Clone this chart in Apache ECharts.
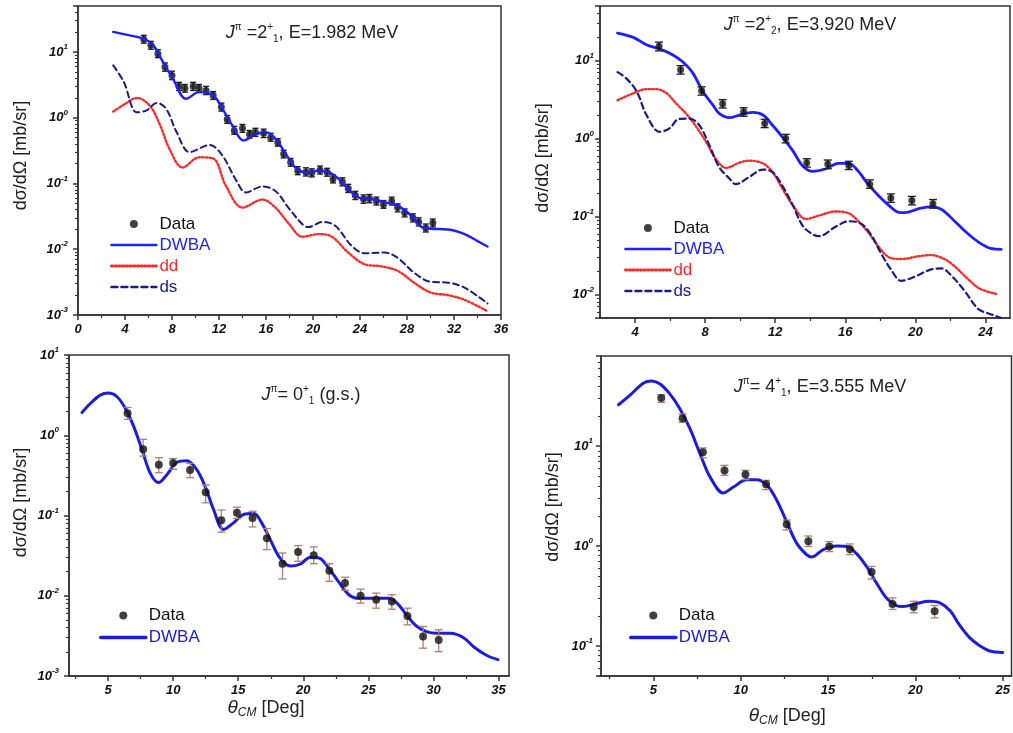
<!DOCTYPE html>
<html><head><meta charset="utf-8">
<script src="https://cdn.jsdelivr.net/npm/echarts@6/dist/echarts.min.js"></script>
<style>html,body{margin:0;padding:0;background:#fff}#c{width:1013px;height:733px}</style>
</head><body><div id="c"></div>
<script>
// ---------------- Panel 1: J=2+_1, E=1.982 MeV ----------------
const p1DwbaX = [3,4.3,5.55,6.4,7.24,8.08,9.2,10.3,11.5,12.3,13.15,14.1,15.1,16,16.8,17.7,18.5,19.4,20.5,21.3,22.2,23,23.9,25,26.1,27.2,28.4,29.2,30,31.5,32.9,34,34.85];
const p1DwbaY = [20.2,18,16,12.7,7,3.9,1.94,2.45,2.2,1.36,0.76,0.45,0.56,0.6,0.48,0.28,0.175,0.147,0.156,0.15,0.117,0.082,0.061,0.058,0.052,0.046,0.032,0.022,0.0205,0.020,0.017,0.0133,0.011];
const p1DdX = [3,4,5,6.1,7,7.8,8.9,10.3,11.5,12.6,14,15.7,16.8,17.9,19.1,20.5,21.6,23,24.4,25.8,27.2,28.6,30,31.5,32.9,34.85];
const p1DdY = [1.24,1.62,2.0,1.53,0.76,0.33,0.175,0.25,0.24,0.091,0.043,0.057,0.043,0.025,0.0155,0.017,0.0155,0.0089,0.0059,0.0055,0.0047,0.0031,0.0022,0.0020,0.0017,0.00114];
const p1DsX = [3,3.9,5,5.8,6.7,7.5,8.4,9.5,11.2,12.3,13.4,14.3,15.7,16.8,17.9,19.1,19.6,20.8,21.9,23.3,24.4,26.1,27.2,28.6,30,31.5,32.9,34.85];
const p1DsY = [6.25,3.5,1.21,1.28,1.68,1.37,0.6,0.30,0.385,0.264,0.117,0.073,0.09,0.077,0.043,0.024,0.0217,0.026,0.0227,0.0112,0.0087,0.0089,0.0074,0.0044,0.0032,0.0031,0.0026,0.0015];
const p1DataX = [5.6,6.2,6.8,7.4,8.0,8.6,9.1,9.8,10.3,10.9,11.5,12.2,12.7,13.3,14.0,14.6,15.1,15.8,16.4,17.0,17.5,18.1,18.7,19.4,19.9,20.6,21.2,21.7,22.5,23.0,23.6,24.3,24.8,25.4,26.0,26.7,27.2,27.8,28.5,29.0,29.6,30.2];
const p1DataY = [15.6,12.6,9.4,5.9,4.4,3.0,2.8,3.0,2.8,2.6,2.2,1.45,0.94,0.64,0.69,0.56,0.6,0.58,0.5,0.42,0.28,0.21,0.156,0.15,0.145,0.16,0.148,0.117,0.106,0.084,0.066,0.058,0.059,0.054,0.048,0.054,0.043,0.036,0.030,0.026,0.021,0.025];
const p1DataLo = [13.6,11.0,8.2,5.1,3.8,2.6,2.45,2.6,2.45,2.25,1.9,1.26,0.82,0.56,0.6,0.49,0.52,0.5,0.44,0.37,0.245,0.183,0.136,0.13,0.126,0.139,0.129,0.102,0.092,0.073,0.057,0.05,0.051,0.047,0.042,0.047,0.037,0.031,0.026,0.0226,0.0183,0.0218];
const p1DataHi = [17.9,14.5,10.8,6.8,5.1,3.45,3.2,3.45,3.2,3.0,2.5,1.67,1.08,0.74,0.79,0.64,0.69,0.67,0.58,0.48,0.32,0.24,0.18,0.173,0.167,0.184,0.17,0.135,0.122,0.097,0.076,0.067,0.068,0.062,0.055,0.062,0.049,0.041,0.0345,0.030,0.0242,0.0288];

// ---------------- Panel 2: J=2+_2, E=3.920 MeV ----------------
const p2DwbaX = [3,3.9,4.65,5.4,6.16,6.7,7.3,7.87,8.44,8.8,9.4,9.95,10.7,11.3,11.85,12.4,13,13.55,14.1,14.9,15.6,16.2,16.7,17.3,17.9,18.5,19,19.4,20.2,20.9,21.5,22.2,23,23.6,24.3,24.9];
const p2DwbaY = [22.5,19.8,15.9,14.1,11.8,9.7,6.9,4.0,2.7,2.1,1.85,2.0,2.16,2.0,1.48,1.05,0.70,0.45,0.38,0.41,0.48,0.48,0.39,0.26,0.185,0.138,0.114,0.112,0.126,0.134,0.123,0.089,0.060,0.047,0.039,0.038];
const p2DdX = [3,3.9,4.65,5.2,5.8,6.35,6.9,7.5,8.06,8.6,9.2,9.95,10.5,11.3,11.85,12.4,13,13.75,14.5,15.45,16.2,16.7,17.3,17.9,18.5,19.2,20.2,20.9,21.65,22.2,23,23.7,24.7];
const p2DdY = [3.1,3.8,4.3,4.3,3.8,2.8,2.1,1.41,0.9,0.55,0.42,0.49,0.52,0.48,0.37,0.23,0.14,0.093,0.103,0.116,0.11,0.089,0.063,0.041,0.030,0.0285,0.031,0.032,0.0285,0.0234,0.0158,0.0118,0.0101];
const p2DsX = [3,3.5,4.1,4.65,5.4,5.97,6.5,7.1,7.67,8.24,8.8,9.4,9.75,10.5,11.3,11.85,12.4,13,13.55,14.1,14.5,15.45,16.2,16.9,17.5,18,18.6,19.2,19.9,20.9,21.5,22,22.8,23.6,24.3,24.9];
const p2DsY = [7.1,5.9,4.0,2.0,1.22,1.35,1.78,1.8,1.48,0.82,0.43,0.305,0.26,0.32,0.40,0.37,0.25,0.14,0.077,0.06,0.056,0.074,0.087,0.081,0.057,0.035,0.021,0.015,0.0167,0.021,0.0216,0.018,0.0112,0.0065,0.0056,0.005];
const p2DataX = [5.37,6.6,7.8,9.0,10.2,11.4,12.6,13.8,15.0,16.2,17.4,18.6,19.8,21.0];
const p2DataY = [15.2,7.6,4.1,2.8,2.2,1.56,1.0,0.49,0.47,0.45,0.26,0.173,0.16,0.146];
const p2DataLo = [13.3,6.7,3.6,2.46,1.93,1.38,0.88,0.43,0.41,0.4,0.23,0.152,0.141,0.128];
const p2DataHi = [17.2,8.6,4.6,3.15,2.48,1.76,1.13,0.55,0.53,0.51,0.295,0.195,0.181,0.165];

// ---------------- Panel 3: J=0+_1 (g.s.) ----------------
const p3DwbaX = [3,3.6,4.4,5.03,5.67,6.3,6.95,7.6,8.23,8.87,9.5,10.3,11.05,11.8,12.46,13.1,13.87,14.64,15.4,16.2,16.8,17.46,18.2,19.0,19.8,20.5,21.2,21.95,22.7,23.5,24.26,25.4,26.6,27.2,27.85,28.6,29.4,30.3,31.3,32.3,33.1,34.1,34.95];
const p3DwbaY = [1.92,2.45,3.16,3.35,3.04,2.2,1.31,0.67,0.34,0.257,0.32,0.46,0.48,0.376,0.23,0.119,0.067,0.081,0.103,0.106,0.081,0.05,0.0296,0.0234,0.025,0.030,0.0296,0.022,0.015,0.0103,0.0093,0.0093,0.0093,0.0081,0.006,0.0043,0.0036,0.0034,0.0034,0.0030,0.0023,0.0018,0.0016];
const p3DataX = [6.5,7.7,8.9,10.0,11.3,12.5,13.7,14.9,16.1,17.2,18.4,19.6,20.8,22.0,23.2,24.4,25.6,26.8,28.0,29.2,30.4];
const p3DataY = [1.88,0.67,0.43,0.45,0.37,0.195,0.087,0.108,0.093,0.052,0.025,0.035,0.032,0.0205,0.0144,0.010,0.0089,0.0085,0.0056,0.0031,0.0028];
const p3DataLo = [1.58,0.55,0.341,0.376,0.296,0.144,0.062,0.0917,0.072,0.0376,0.0162,0.0269,0.0251,0.0151,0.0117,0.0081,0.0070,0.0068,0.00434,0.00222,0.00201];
const p3DataHi = [2.22,0.89,0.526,0.513,0.447,0.24,0.117,0.127,0.113,0.0688,0.0341,0.0422,0.0407,0.0251,0.017,0.0121,0.0108,0.0103,0.0070,0.00414,0.00376];

// ---------------- Panel 4: J=4+_1, E=3.555 MeV ----------------
const p4DwbaX = [3,3.68,4.44,4.9,5.4,5.96,6.53,7.1,7.67,8.25,9.0,9.58,10.34,10.9,11.5,12.06,12.63,13.2,13.77,14.06,14.7,15.5,16.06,16.6,17.2,17.77,18.34,18.9,19.3,20.06,20.8,21.4,22,22.5,23.1,23.7,24.25,25];
const p4DwbaY = [26,32.7,43,45,41.7,33,23.5,14.9,8.4,4.9,3.4,3.9,4.6,4.6,4.07,2.88,1.75,1.07,0.82,0.776,0.916,1.0,0.99,0.85,0.625,0.427,0.302,0.254,0.248,0.266,0.28,0.27,0.224,0.164,0.121,0.10,0.089,0.086];
const p4DataX = [5.45,6.67,7.83,9.07,10.27,11.45,12.63,13.87,15.07,16.25,17.49,18.69,19.9,21.1];
const p4DataY = [30.3,19.1,8.7,5.7,5.2,4.15,1.65,1.12,0.99,0.93,0.55,0.263,0.245,0.223];
const p4DataLo = [27.4,17.3,7.65,5.1,4.63,3.67,1.45,0.99,0.88,0.82,0.468,0.232,0.215,0.191];
const p4DataHi = [32.7,21.0,9.6,6.43,5.73,4.55,1.82,1.26,1.11,1.05,0.625,0.303,0.28,0.254];

// ---------------- tick labels ----------------
const p1XTicks = [0,4,8,12,16,20,24,28,32,36];
const p2XTicks = [4,8,12,16,20,24];
const p3XTicks = [5,10,15,20,25,30,35];
const p4XTicks = [5,10,15,20,25];
const p1XMinor = [2,6,10,14,18,22,26,30,34];
const p2XMinor = [6,10,14,18,22];
const p3XMinor = [2.5,7.5,12.5,17.5,22.5,27.5,32.5];
const p4XMinor = [2.5,7.5,12.5,17.5,22.5];
const p1YTicks = [0.001,0.01,0.1,1,10];
const p2YTicks = [0.01,0.1,1,10];
const p3YTicks = [0.001,0.01,0.1,1,10];
const p4YTicks = [0.1,1,10];

const titles = [
  '{j|J}{s|π}{n| =2}{s|+}{b|1}{n|, E=1.982 MeV}',
  '{j|J}{s|π}{n| =2}{s|+}{b|2}{n|, E=3.920 MeV}',
  '{j|J}{s|π}{n|= 0}{s|+}{b|1}{n| (g.s.)}',
  '{j|J}{s|π}{n|= 4}{s|+}{b|1}{n|, E=3.555 MeV}'
];
const yTitle = 'dσ/dΩ [mb/sr]';
const xTitle = '{t|θ}{c|CM}{n| [Deg]}';

// ---------------- helpers ----------------
const FONT = '"Liberation Sans", Arial, Helvetica, sans-serif';
const AX = '#333';
const zip = (xs, ys) => xs.map((v, i) => [v, ys[i]]);
const zip3 = (xs, a, b) => xs.map((v, i) => [v, a[i], b[i]]);

const panels = [
  {grid:{left:78, top:6, width:423, height:309}, xMin:0, xMax:36, xT:p1XTicks, xM:p1XMinor,
   yMin:0.001, yMax:50, yT:p1YTicks, yLM:10, yGap:48, yPad:[0,0,0,10], xName:null},
  {grid:{left:600, top:6, width:410, height:312}, xMin:2, xMax:25.4, xT:p2XTicks, xM:p2XMinor,
   yMin:0.005, yMax:50, yT:p2YTicks, yLM:6, yGap:48, yPad:[0,0,0,8], xName:null},
  {grid:{left:69, top:355, width:440, height:321}, xMin:2, xMax:35.8, xT:p3XTicks, xM:p3XMinor,
   yMin:0.001, yMax:10, yT:p3YTicks, yLM:10, yGap:39, yPad:[0,0,0,26], xName:xTitle, xGap:21, xPad:[0,46,0,0]},
  {grid:{left:601, top:356, width:411, height:320}, xMin:2, xMax:25.5, xT:p4XTicks, xM:p4XMinor,
   yMin:0.05, yMax:80, yT:p4YTicks, yLM:8, yGap:39, yPad:[0,0,0,18], xName:xTitle, xGap:29, xPad:[0,38,0,0]}
];

const labelStyle = {fontFamily:FONT, fontWeight:'bold', fontStyle:'italic', color:'#111'};
const grids = [], xAxes = [], yAxes = [];
panels.forEach((p, i) => {
  grids.push(Object.assign({show:true, borderColor:AX, borderWidth:1.5, backgroundColor:'#fff'}, p.grid));
  const xMain = {
    type:'value', gridIndex:i, position:'bottom', min:p.xMin, max:p.xMax,
    axisLine:{show:true, onZero:false, lineStyle:{color:AX, width:1.5}},
    axisTick:{show:true, customValues:p.xT, length:5, lineStyle:{color:AX, width:1.5}},
    axisLabel:Object.assign({customValues:p.xT, fontSize:13, margin:8}, labelStyle),
    splitLine:{show:false}
  };
  if (p.xName) {
    xMain.name = p.xName;
    xMain.nameLocation = 'middle';
    xMain.nameGap = p.xGap;
    xMain.nameTextStyle = {fontFamily:FONT, fontSize:18, color:'#222', padding:p.xPad, verticalAlign:'top',
      rich:{
        t:{fontFamily:FONT, fontSize:19, fontStyle:'italic', color:'#222', lineHeight:22, verticalAlign:'middle'},
        c:{fontFamily:FONT, fontSize:12, fontStyle:'italic', color:'#222', lineHeight:12, verticalAlign:'bottom'},
        n:{fontFamily:FONT, fontSize:18, color:'#222', lineHeight:22, verticalAlign:'middle'}
      }};
  }
  xAxes.push(xMain);
  xAxes.push({
    type:'value', gridIndex:i, position:'bottom', min:p.xMin, max:p.xMax,
    axisLine:{show:false}, axisLabel:{show:false}, splitLine:{show:false},
    axisTick:{show:true, customValues:p.xM, length:3, lineStyle:{color:AX, width:1.2}}
  });
  yAxes.push({
    type:'log', logBase:10, gridIndex:i, position:'left', min:p.yMin, max:p.yMax,
    axisLine:{show:true, onZero:false, lineStyle:{color:AX, width:1.5}},
    axisTick:{show:true, length:5, lineStyle:{color:AX, width:1.5}},
    minorTick:{show:true, splitNumber:9, length:3, lineStyle:{color:AX, width:1.1}},
    axisLabel:{customValues:p.yT, margin:p.yLM,
      formatter: v => '{b|10}{e|' + Math.round(Math.log10(v)) + '}',
      rich:{
        b:Object.assign({fontSize:13, lineHeight:18, verticalAlign:'middle'}, labelStyle),
        e:Object.assign({fontSize:8, lineHeight:9, verticalAlign:'top'}, labelStyle)
      }},
    splitLine:{show:false}, minorSplitLine:{show:false},
    name:yTitle, nameLocation:'middle', nameGap:p.yGap,
    nameTextStyle:{fontFamily:FONT, fontSize:18, color:'#222', padding:p.yPad}
  });
});

function errRender(color, cap, lw) {
  return function (params, api) {
    const x = api.value(0), lo = api.value(1), hi = api.value(2);
    const a = api.coord([x, lo]), b = api.coord([x, hi]);
    const s = {stroke:color, lineWidth:lw, fill:null};
    return {type:'group', children:[
      {type:'line', shape:{x1:a[0], y1:a[1], x2:b[0], y2:b[1]}, style:s},
      {type:'line', shape:{x1:a[0]-cap, y1:a[1], x2:a[0]+cap, y2:a[1]}, style:s},
      {type:'line', shape:{x1:b[0]-cap, y1:b[1], x2:b[0]+cap, y2:b[1]}, style:s}
    ]};
  };
}

const BLUE = '#1f1fff', BLUE2 = '#1c1cd9', RED = '#ff2a2a', NAVY = '#1b1b85';
const DOT = [1.5, 2.2], DASH = [6, 4];
function lineS(name, i, data, color, width, type, z) {
  return {name, type:'line', xAxisIndex:2*i, yAxisIndex:i, data, symbol:'none', showSymbol:false, smooth:0.35,
    clip:true, z:z || 2, lineStyle:{color, width, type:type || 'solid', cap:'round'}, itemStyle:{color},
    emphasis:{disabled:true}, silent:true, animation:false};
}
function errS(i, data, color, cap, lw) {
  return {type:'custom', xAxisIndex:2*i, yAxisIndex:i, data, renderItem:errRender(color, cap, lw),
    encode:{x:0, y:[1,2]}, z:3, silent:true, animation:false, clip:true};
}
function dataS(name, i, data, size) {
  return {name, type:'scatter', xAxisIndex:2*i, yAxisIndex:i, data, symbol:'circle', symbolSize:size,
    itemStyle:{color:'#111'}, z:4, silent:true, animation:false};
}

const series = [
  lineS('dd#1', 0, zip(p1DdX, p1DdY), RED, 2.4, DOT),
  lineS('ds#1', 0, zip(p1DsX, p1DsY), NAVY, 2, DASH),
  errS(0, zip3(p1DataX, p1DataLo, p1DataHi), '#222', 3, 1.4),
  dataS('Data#1', 0, zip(p1DataX, p1DataY), 7),
  lineS('DWBA#1', 0, zip(p1DwbaX, p1DwbaY), BLUE, 2.4, 'solid', 5),

  lineS('dd#2', 1, zip(p2DdX, p2DdY), RED, 2.4, DOT),
  lineS('ds#2', 1, zip(p2DsX, p2DsY), NAVY, 2.2, DASH),
  errS(1, zip3(p2DataX, p2DataLo, p2DataHi), '#222', 4, 1.4),
  dataS('Data#2', 1, zip(p2DataX, p2DataY), 7),
  lineS('DWBA#2', 1, zip(p2DwbaX, p2DwbaY), BLUE, 2.8, 'solid', 2),

  lineS('DWBA#3', 2, zip(p3DwbaX, p3DwbaY), BLUE2, 3, 'solid', 2),
  errS(2, zip3(p3DataX, p3DataLo, p3DataHi), '#b07e72', 4, 1.3),
  dataS('Data#3', 2, zip(p3DataX, p3DataY), 8),

  lineS('DWBA#4', 3, zip(p4DwbaX, p4DwbaY), BLUE2, 3, 'solid', 2),
  errS(3, zip3(p4DataX, p4DataLo, p4DataHi), '#b07e72', 4, 1.3),
  dataS('Data#4', 3, zip(p4DataX, p4DataY), 8)
];

const HIDE = {color:'rgba(0,0,0,0)', borderColor:'rgba(0,0,0,0)', borderWidth:0, opacity:0};
const legendLine = {
  DWBA:{w:[2.4, 2.4, 3.6, 3.6], t:'solid'},
  dd:{w:[2.8, 2.8], t:DOT},
  ds:{w:[2.4, 2.4], t:DASH}
};
function legend(left, top, n, items, lh) {
  const colors = {Data:'#111', DWBA:BLUE, dd:RED, ds:NAVY};
  return {orient:'vertical', left, top, padding:0, itemWidth:45, itemHeight:8, itemGap:3,
    selectedMode:false, formatter:name => name.split('#')[0],
    textStyle:{fontFamily:FONT, fontSize:17, lineHeight:lh, padding:[0,0,0,-2]},
    data:items.map(k => {
      const c = (n > 2 && k === 'DWBA') ? BLUE2 : colors[k];
      const d = {name:k + '#' + n, textStyle:{color:c}};
      if (k === 'Data') d.icon = 'circle';
      else {
        d.itemStyle = HIDE;
        d.lineStyle = {width:legendLine[k].w[n - 1], color:c, type:legendLine[k].t, cap:'round'};
      }
      return d;
    })};
}

const titleRich = {
  j:{fontFamily:FONT, fontSize:18, fontStyle:'italic', fill:'#222', lineHeight:22, verticalAlign:'middle'},
  s:{fontFamily:FONT, fontSize:10, fill:'#222', lineHeight:10, verticalAlign:'top'},
  b:{fontFamily:FONT, fontSize:10, fill:'#222', lineHeight:10, verticalAlign:'bottom'},
  n:{fontFamily:FONT, fontSize:18, fill:'#222', lineHeight:22, verticalAlign:'middle'}
};
const titlePos = [[312, 33], [810, 25], [311, 395], [820, 387]];

const chart = echarts.init(document.getElementById('c'), null, {renderer:'canvas'});
chart.setOption({
  animation:false,
  backgroundColor:'#fff',
  grid:grids, xAxis:xAxes, yAxis:yAxes, series,
  legend:[
    legend(110, 215, 1, ['Data','DWBA','dd','ds'], 18),
    legend(624, 219, 2, ['Data','DWBA','dd','ds'], 18),
    legend(99, 606, 3, ['Data','DWBA'], 19),
    legend(629, 606, 4, ['Data','DWBA'], 19)
  ],
  graphic:titles.map((t, i) => ({type:'text', x:titlePos[i][0], y:titlePos[i][1], z:100, silent:true,
    style:{text:t, rich:titleRich, align:'center', verticalAlign:'middle', fill:'#222',
      font:'18px ' + FONT}}))
});
</script></body></html>
